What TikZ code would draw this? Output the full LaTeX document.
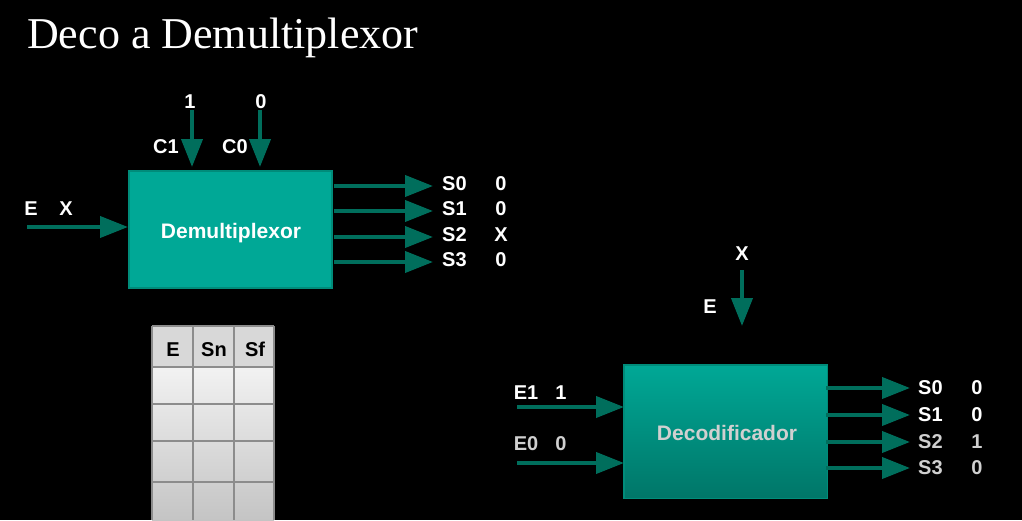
\documentclass[tikz,border=0pt]{standalone}
\usepackage{fontspec}
\setmainfont{Liberation Serif}
\newfontfamily\lab{Liberation Sans}
\usetikzlibrary{arrows.meta,calc}
\definecolor{boxteal}{RGB}{0,168,150}
\definecolor{boxtealdark}{RGB}{0,118,104}
\definecolor{boxedge}{RGB}{0,140,122}
\definecolor{arrgreen}{RGB}{0,110,92}
\definecolor{lightgr}{RGB}{208,208,208}
\definecolor{hdrgray}{RGB}{216,216,216}
\definecolor{cellhi}{RGB}{242,242,242}
\definecolor{celllo}{RGB}{196,196,196}
\definecolor{gridline}{RGB}{140,140,140}
\begin{document}
\begin{tikzpicture}[x=1pt,y=-1pt,
  arr/.style={draw=arrgreen,line width=4pt,-{Triangle[length=28pt,width=21pt]},arrgreen},
  lbl/.style={text=white,font=\lab\bfseries\fontsize{20}{20}\selectfont,inner sep=0pt,anchor=center,text height=14.3pt,text depth=0pt},
  lblg/.style={lbl,text=lightgr},
  blk/.style={draw=boxedge,line width=1.5pt,fill=boxteal,inner sep=0pt,anchor=north west},
  hdr/.style={text=black,font=\lab\bfseries\fontsize{20}{20}\selectfont,inner sep=0pt,anchor=center,text height=14.3pt,text depth=0pt}]
\useasboundingbox (0,0) rectangle (1022,520);
\fill[black] (0,0) rectangle (1022,520);
% title
\node[anchor=base west,inner sep=0pt,text=white,font=\fontsize{44}{44}\selectfont] (title) at (27,48) {Deco a Demultiplexor};
% demux
\node[blk,minimum width=203pt,minimum height=117pt] (demux) at (128,170) {};
\node[lbl,font=\lab\bfseries\fontsize{21}{21}\selectfont,text height=15pt,text depth=4pt] (demuxt) at (231,233) {Demultiplexor};
\coordinate (c1s) at (192,110); \coordinate (c1e) at (192,167);
\coordinate (c0s) at (260,110); \coordinate (c0e) at (260,167);
\draw[arr] (c1s) -- (c1e);
\draw[arr] (c0s) -- (c0e);
\node[lbl] (v1) at (190,101) {1};
\node[lbl] (v0) at (261,101) {0};
\node[lbl] (lc1) at (166,146) {C1};
\node[lbl] (lc0) at (235,146) {C0};
\coordinate (es) at (27,227);
\draw[arr] (es) -- (demux.west |- es);
\node[lbl] (le) at (31,208) {E};
\node[lbl] (lx) at (66,208) {X};
\foreach \y/\s/\v [count=\i] in {186/S0/0,211/S1/0,237/S2/X,262/S3/0}{
  \coordinate (do\i s) at (334,\y);
  \coordinate (do\i e) at (433,\y);
  \draw[arr] (do\i s) -- (do\i e);
  \node[lbl,anchor=west] (ds\i) at (442,\y-3) {\s};
  \node[lbl] (dv\i) at (501,\y-3) {\v};
}
% table
\shade[top color=hdrgray,bottom color=hdrgray] (152,326) rectangle (274,367);
\shade[top color=cellhi,bottom color=celllo] (152,367) rectangle (274,520);
\foreach \x in {152,193,234,274}{\draw[gridline,line width=1.2pt] (\x,326) -- (\x,520);}
\foreach \y in {326,367,404,441,482}{\draw[gridline,line width=1.2pt] (152,\y) -- (274,\y);}
\node[hdr] (th1) at (173,349) {E};
\node[hdr] (th2) at (214,349) {Sn};
\node[hdr] (th3) at (255,349) {Sf};
% decoder
\node[blk,minimum width=202pt,minimum height=132pt,fill=none] (deco) at (624,365) {};
\shade[top color=boxteal,bottom color=boxtealdark] (deco.north west) rectangle (deco.south east);
\draw[boxedge,line width=1.5pt] (deco.north west) rectangle (deco.south east);
\node[lbl,text=lightgr,font=\lab\bfseries\fontsize{21}{21}\selectfont,text height=15pt,text depth=0pt] (decot) at (727,433) {Decodificador};
\coordinate (xs) at (742,270); \coordinate (xe) at (742,326);
\draw[arr] (xs) -- (xe);
\node[lbl] (lx2) at (742,253) {X};
\node[lbl] (le2) at (710,306) {E};
\coordinate (e1s) at (517,407); \coordinate (e0s) at (517,463);
\draw[arr] (e1s) -- (deco.west |- e1s);
\draw[arr] (e0s) -- (deco.west |- e0s);
\node[lbl] (le1) at (526,392) {E1};
\node[lbl] (lv1) at (561,392) {1};
\node[lblg] (le0) at (526,443) {E0};
\node[lblg] (lv0) at (561,443) {0};
\foreach \y/\s/\v/\st [count=\i] in {388/S0/0/lbl,415/S1/0/lbl,442/S2/1/lblg,468/S3/0/lblg}{
  \coordinate (co\i s) at (826,\y);
  \coordinate (co\i e) at (910,\y);
  \draw[arr] (co\i s) -- (co\i e);
  \node[\st,anchor=west] (cs\i) at (918,\y-1) {\s};
  \node[\st] (cv\i) at (977,\y-1) {\v};
}
\end{tikzpicture}
\end{document}
